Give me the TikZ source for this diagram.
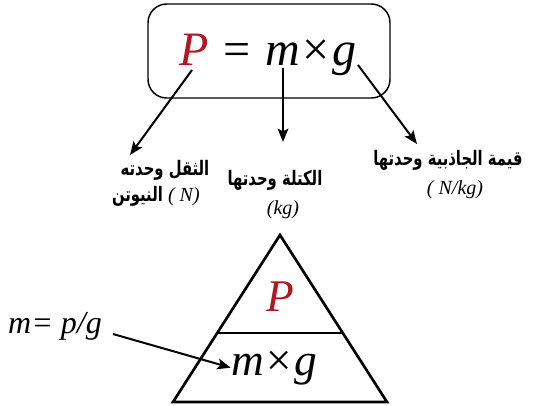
\documentclass[tikz,border=0pt]{standalone}
\usepackage{fontspec}
\setmainfont{Liberation Serif}
\newfontfamily\arabicfont[Script=Arabic, FakeStretch=0.74]{DejaVu Sans}
\TeXXeTstate=1
\usetikzlibrary{arrows.meta,calc}
\definecolor{pred}{RGB}{178,24,36}
\begin{document}
\begin{tikzpicture}[x=0.75pt,y=-0.75pt,
  arr/.style={line width=1.5pt,-{Stealth[length=10pt,width=8pt,inset=2pt]}},
  ar/.style={font=\arabicfont\bfseries\fontsize{15}{18}\selectfont, inner sep=0pt},
  lat/.style={font=\itshape\fontsize{15}{18}\selectfont, inner sep=0pt},
  big/.style={font=\itshape\fontsize{36}{40}\selectfont, inner sep=0pt},
]
\useasboundingbox (0,0) rectangle (560,405);
% top box
\node (box) [draw, line width=1.1pt, rounded corners=14pt, minimum width=181.5pt, minimum height=70.5pt, inner sep=0pt] at (269,51) {};
\node (formula) [big, anchor=base] at (268,65) {{\color{pred}P} = m×g};
% arrow coordinates
\coordinate (sP) at (192,70);
\coordinate (sM) at (283,68);
\coordinate (sG) at (358,65);
\coordinate (tP) at (130,155);
\coordinate (tM) at (283,142);
\coordinate (tG) at (417,144);
\draw[arr] (sP) -- (tP);
\draw[arr] (sM) -- (tM);
\draw[arr] (sG) -- (tG);
% labels
\node (l1) [ar] at (165,170) {\beginR الثقل وحدته\endR};
\node (l2) [ar, anchor=east] at (200,196) {\beginR النيوتن\endR\ {\normalfont\itshape\fontsize{15}{18}\selectfont( N)}};
\node (m1) [ar] at (275,180) {\beginR الكتلة وحدتها\endR};
\node (m2) [lat] at (283,210) {(kg)};
\node (g1) [ar] at (448,160) {\beginR قيمة الجاذبية وحدتها\endR};
\node (g2) [lat] at (455,190) {( N/kg)};
% triangle
\coordinate (A) at (280,235);
\coordinate (B) at (173,402);
\coordinate (C) at (387,402);
\draw[line width=2pt, line join=miter] (A) -- (B) -- (C) -- cycle;
\draw[line width=2pt] ($(A)!0.587!(B)$) -- ($(A)!0.587!(C)$);
\node (tp) [font=\itshape\fontsize{34}{38}\selectfont, text=pred, inner sep=0pt, anchor=base] at (280,311) {P};
\node (tmg) [font=\itshape\fontsize{34}{38}\selectfont, inner sep=0pt, anchor=base] at (274,375) {m×g};
\node (mpg) [font=\itshape\fontsize{24}{28}\selectfont, inner sep=0pt, anchor=base] at (55,333) {m= p/g};
\coordinate (sm) at (113,334);
\draw[arr] (sm) -- (tmg.west);
\end{tikzpicture}
\end{document}
